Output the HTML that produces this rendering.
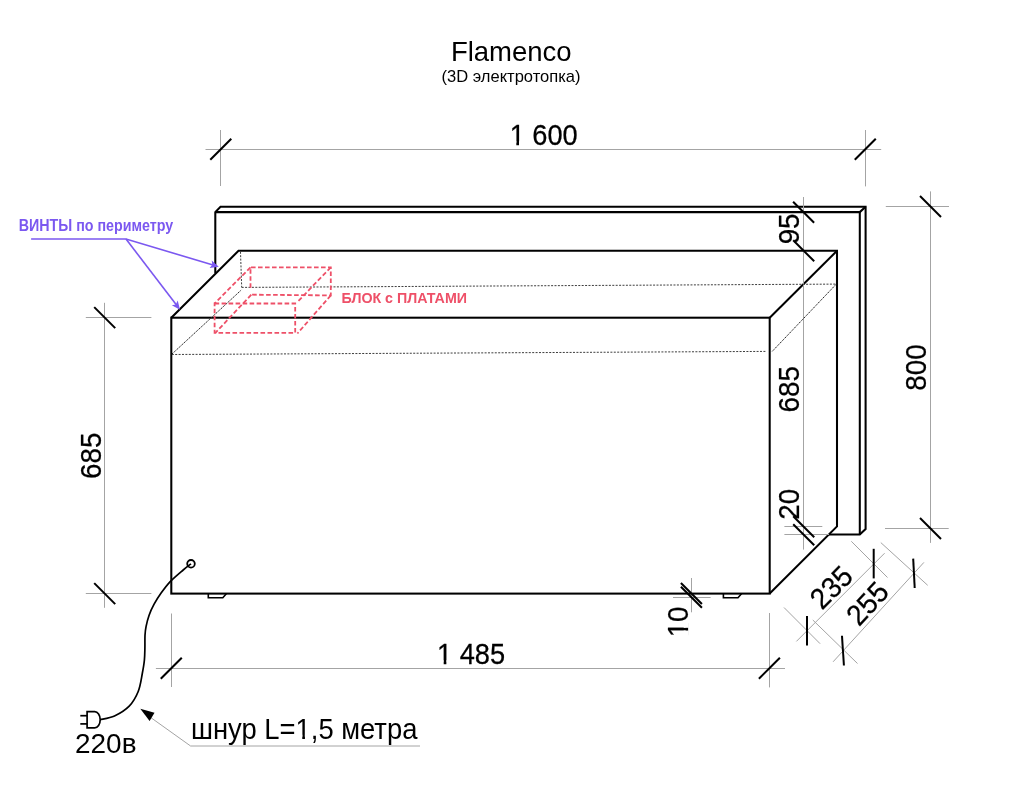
<!DOCTYPE html>
<html><head><meta charset="utf-8">
<style>
html,body{margin:0;padding:0;background:#fff;width:1024px;height:796px;overflow:hidden}
svg{display:block;will-change:transform}
text{font-family:"Liberation Sans",sans-serif}
</style></head>
<body>
<svg width="1024" height="796" viewBox="0 0 1024 796">
<rect width="1024" height="796" fill="#fff"/>

<!-- title -->
<text x="452.4" y="60.9" font-size="27.5" fill="#000" dx="-1.5">Flamenco</text>
<text x="441.5" y="82.4" font-size="17" textLength="139" lengthAdjust="spacingAndGlyphs" fill="#000">(3D электротопка)</text>

<!-- dimension thin lines -->
<g stroke="#a4a4a4" stroke-width="1" fill="none">
  <!-- 1600 -->
  <line x1="205.5" y1="149.5" x2="881.2" y2="149.5"/>
  <line x1="220.5" y1="130" x2="220.5" y2="186"/>
  <line x1="865.5" y1="130" x2="865.5" y2="186.4"/>
  <!-- 800 -->
  <line x1="930.5" y1="191.4" x2="930.5" y2="542.9"/>
  <line x1="885.8" y1="206.5" x2="949" y2="206.5"/>
  <line x1="885" y1="528.5" x2="948.7" y2="528.5"/>
  <!-- left 685 -->
  <line x1="104.5" y1="302.8" x2="104.5" y2="607.8"/>
  <line x1="85.8" y1="317.5" x2="151.4" y2="317.5"/>
  <line x1="85.8" y1="593.5" x2="151.4" y2="593.5"/>
  <!-- 1485 -->
  <line x1="155.9" y1="668.5" x2="785" y2="668.5"/>
  <line x1="171.5" y1="613.5" x2="171.5" y2="687"/>
  <line x1="769.5" y1="613" x2="769.5" y2="687.4"/>
  <!-- 10 -->
  <line x1="673" y1="597.5" x2="710.6" y2="597.5"/>
  <!-- 235 -->
  <line x1="784" y1="607.5" x2="820.1" y2="643.7"/>
  <line x1="851.3" y1="541.3" x2="887.5" y2="577.5"/>
  <line x1="796.4" y1="641.4" x2="884.6" y2="553.2"/>
  <!-- 255 -->
  <line x1="812.8" y1="620" x2="857.5" y2="663.5"/>
  <line x1="880.8" y1="542.6" x2="927.7" y2="585.3"/>
  <line x1="833.1" y1="661.8" x2="923.9" y2="562.4"/>
  <!-- cord label leader -->
  <polyline points="150,717 190.6,746 420,746"/>
</g>

<!-- back panel -->
<g stroke="#000" stroke-width="2.05" fill="none" stroke-linejoin="miter">
  <polyline points="215.3,273.2 215.3,212.1 220.5,206.8 865.6,206.8 865.6,529 859.8,534.4 829,534.4"/>
  <polyline points="215.3,212.1 859.8,212.1 865.6,206.8"/>
  <line x1="859.8" y1="212.1" x2="859.8" y2="534.4"/>
</g>
<!-- box -->
<g fill="#fff" stroke="none">
  <polygon points="171.3,317.7 238.5,250.8 837,250.8 837,526.4 769.7,593.6 171.3,593.6"/>
</g>
<g stroke="#000" stroke-width="2.05" fill="none" stroke-linejoin="miter">
  <rect x="171.3" y="317.7" width="598.4" height="275.9"/>
  <polyline points="171.3,317.7 238.5,250.8 837,250.8 837,526.4 769.7,593.6"/>
  <line x1="769.7" y1="317.7" x2="836.3" y2="251.5"/>
  <!-- feet -->
  <path d="M208.3,593.5 L208.3,597.7 L222.8,597.7 L226.5,593.5" stroke-width="1.6"/>
  <path d="M723.4,593.5 L723.4,597.8 L738,597.8 L741.7,593.5" stroke-width="1.6"/>
</g>
<!-- redraw thin dim lines crossing the box -->
<g stroke="#a4a4a4" stroke-width="1" fill="none">
  <line x1="803.5" y1="197" x2="803.5" y2="549.6"/>
  <line x1="691.5" y1="578" x2="691.5" y2="612.3"/>
  <line x1="784.4" y1="526.5" x2="822.3" y2="526.5"/>
  <line x1="784.4" y1="534.5" x2="829" y2="534.5"/>
</g>

<!-- dotted inner lines -->
<g stroke="#333" stroke-width="0.95" fill="none" stroke-dasharray="2,1.4">
  <line x1="240.5" y1="251.8" x2="241.7" y2="287.4"/>
  <line x1="241.7" y1="287.4" x2="836.3" y2="284.1"/>
  <line x1="171.8" y1="354.5" x2="766.3" y2="351.4"/>
</g>
<g stroke="#222" stroke-width="1" fill="none" stroke-dasharray="1.5,0.8">
  <line x1="172" y1="354" x2="241.4" y2="289.9"/>
  <line x1="772.2" y1="351.4" x2="836.3" y2="284.1"/>
</g>
<!-- red dashed box -->
<g stroke="#ee5068" stroke-width="1.8" fill="none" stroke-dasharray="4.6,2.4">
  <polyline points="250.5,287.8 250.5,267.3 330.8,267.3 330.8,295.4 251.3,294.7"/>
  <line x1="250.5" y1="267.3" x2="214.6" y2="303.5"/>
  <line x1="330.8" y1="267.3" x2="297.4" y2="302"/>
  <line x1="330.8" y1="295.4" x2="297.4" y2="333.5"/>
  <line x1="251.3" y1="294.7" x2="215.4" y2="332.8"/>
  <polygon points="214.6,303.5 295.2,303.5 295.2,332.8 214.6,332.8"/>
</g>
<text x="341.5" y="303.4" font-size="14.8" font-weight="bold" fill="#ee5068" textLength="125.5" lengthAdjust="spacingAndGlyphs">БЛОК с ПЛАТАМИ</text>

<!-- violet label -->
<text x="18.7" y="231.3" font-size="16" font-weight="bold" fill="#7b58f0" textLength="154.5" lengthAdjust="spacingAndGlyphs">ВИНТЫ по периметру</text>
<g stroke="#7b58f0" stroke-width="1.6" fill="none">
  <polyline points="31.1,239 126,239 213,265"/>
  <line x1="126" y1="239" x2="176.3" y2="304.8"/>
</g>
<g fill="#7b58f0">
  <polygon points="218.8,266.7 209.6,268 212.3,264.8 211.7,260.6"/>
  <polygon points="180,309.8 171.8,305.3 175.8,304.4 177.7,300.6"/>
</g>

<!-- cord -->
<g stroke="#000" stroke-width="1.7" fill="none">
  <circle cx="191" cy="563.8" r="3.8" stroke-width="1.8"/>
  <path d="M191,563.8 C189.7,564.8 186.7,567.0 183.2,570 C179.7,573.0 173.9,577.8 170.2,581.6 C166.5,585.5 163.8,589.3 161.1,593.1 C158.4,596.9 156.1,600.5 154.1,604.2 C152.1,607.9 150.4,611.5 149.1,615.2 C147.8,618.9 146.8,622.9 146.1,626.3 C145.4,629.6 145.2,631.7 145,635.3 C144.8,638.9 145.0,643.9 144.9,648 C144.8,652.1 144.8,655.8 144.4,660 C144.0,664.2 143.3,668.2 142.3,673.5 C141.3,678.8 140.4,686.0 138.2,691.5 C136.0,697.0 133.1,702.1 129.2,706.2 C125.2,710.3 119.3,713.8 114.5,716 C109.7,718.2 102.6,719.0 100.2,719.6"/>
</g>
<g stroke="#000" stroke-width="1.7" fill="none">
  <path d="M94.7,711.6 L87.1,711.6 L87.1,727.8 L94.7,727.8 A5.5,8.1 0 0 0 94.7,711.6 Z"/>
  <line x1="80.3" y1="715.7" x2="87.1" y2="715.7"/>
  <line x1="80.3" y1="723.9" x2="87.1" y2="723.9"/>
</g>
<polygon points="140.3,708.7 154.5,712.7 149.6,720.9" fill="#000"/>

<!-- ticks -->
<g stroke="#000" stroke-width="2" fill="none">
  <line x1="210.3" y1="159.8" x2="231.3" y2="138.8"/>
  <line x1="854.8" y1="159.8" x2="875.8" y2="138.8"/>
  <line x1="920" y1="196" x2="941" y2="217"/>
  <line x1="920" y1="518" x2="941" y2="539"/>
  <line x1="793.1" y1="201.8" x2="814.1" y2="222.8"/>
  <line x1="793.2" y1="240.3" x2="814.2" y2="261.3"/>
  <line x1="793.2" y1="516.3" x2="814.2" y2="537.3"/>
  <line x1="793.2" y1="524.2" x2="814.2" y2="545.2"/>
  <line x1="94.2" y1="307.1" x2="115.2" y2="328.1"/>
  <line x1="94.2" y1="583.1" x2="115.2" y2="604.1"/>
  <line x1="160.8" y1="678.7" x2="181.8" y2="657.7"/>
  <line x1="758.9" y1="678.7" x2="779.9" y2="657.7"/>
  <line x1="680.9" y1="583" x2="701.9" y2="604"/>
  <line x1="680.9" y1="586.7" x2="701.9" y2="607.7"/>
  <line x1="807" y1="616" x2="807" y2="645.4"/>
  <line x1="873.7" y1="548.8" x2="873.7" y2="578.4"/>
  <line x1="842" y1="635.8" x2="843.9" y2="665.5"/>
  <line x1="913.2" y1="558.6" x2="914.7" y2="588"/>
</g>

<!-- dimension texts -->
<g fill="#000" stroke="#000" stroke-width="0.25">
  <text transform="translate(543.7,135.3) scale(1,1.07)" x="0" y="9.35" font-size="27.2" text-anchor="middle">1 600</text>
  <text transform="translate(471.05,654.45) scale(1,1.07)" x="0" y="9.35" font-size="27.2" text-anchor="middle">1 485</text>
  <text transform="translate(915.95,367.55) rotate(-90) scale(1,1.05)" x="0" y="9.56" font-size="27.8" text-anchor="middle">800</text>
  <text transform="translate(789.4,389.25) rotate(-90) scale(1,1.05)" x="0" y="9.56" font-size="27.8" text-anchor="middle">685</text>
  <text transform="translate(789.35,228.9) rotate(-90) scale(1,1.05)" x="0" y="9.56" font-size="27.8" text-anchor="middle">95</text>
  <text transform="translate(789.3,504.35) rotate(-90) scale(1,1.05)" x="0" y="9.56" font-size="27.8" text-anchor="middle">20</text>
  <text transform="translate(90.95,455.8) rotate(-90) scale(1,1.05)" x="0" y="9.56" font-size="27.8" text-anchor="middle">685</text>
  <text transform="translate(677.75,621.9) rotate(-90) scale(1,1.05)" x="0" y="9.56" font-size="27.8" text-anchor="middle">10</text>
  <text transform="translate(831.3,587.3) rotate(-45) scale(1,1.05)" x="0" y="9.56" font-size="27.8" text-anchor="middle">235</text>
  <text transform="translate(867.4,603.4) rotate(-47) scale(1,1.05)" x="0" y="9.56" font-size="27.8" text-anchor="middle">255</text>
</g>
<text x="75" y="752.6" font-size="27" fill="#000" textLength="61.5" lengthAdjust="spacingAndGlyphs">220в</text>
<text transform="translate(191,738.7) scale(1,1.05)" x="0" y="0" font-size="27.4" fill="#000">шнур L=1,5 метра</text>
<!-- arial-style 1 (no foot) -->
<g fill="#fff" stroke="none">
  <rect transform="translate(543.7,135.3) scale(1,1.07)" x="-33.21" y="5.54" width="5.85" height="4.62"/>
  <rect transform="translate(543.7,135.3) scale(1,1.07)" x="-24.69" y="5.54" width="5.90" height="4.62"/>
  <rect transform="translate(471.05,654.45) scale(1,1.07)" x="-33.21" y="5.54" width="5.85" height="4.62"/>
  <rect transform="translate(471.05,654.45) scale(1,1.07)" x="-24.69" y="5.54" width="5.90" height="4.62"/>
  <rect transform="translate(677.75,621.9) rotate(-90) scale(1,1.05)" x="-14.63" y="5.67" width="5.98" height="4.73"/>
  <rect transform="translate(677.75,621.9) rotate(-90) scale(1,1.05)" x="-5.92" y="5.67" width="6.03" height="4.73"/>
  <rect transform="translate(191,738.7) scale(1,1.05)" x="105.37" y="-3.84" width="5.89" height="4.66"/>
  <rect transform="translate(191,738.7) scale(1,1.05)" x="113.95" y="-3.84" width="5.95" height="4.66"/>
</g>
</svg>
</body></html>
